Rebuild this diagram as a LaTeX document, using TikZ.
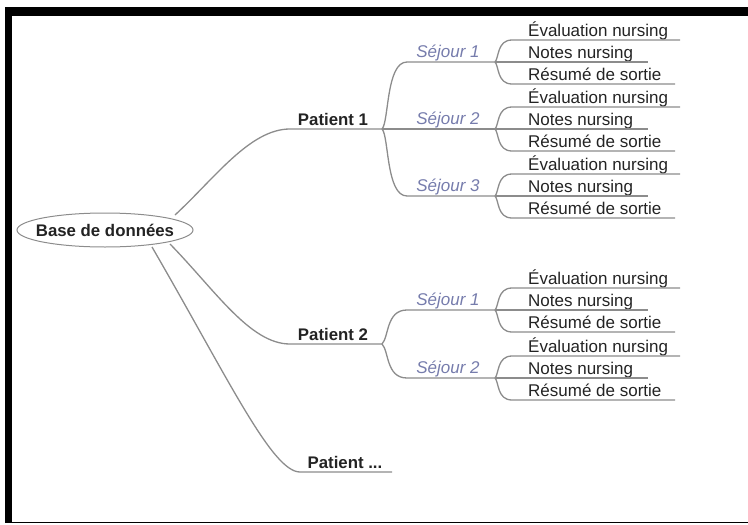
\documentclass[tikz,border=0pt]{standalone}
\usepackage{fontspec}
\setmainfont{Liberation Sans}
\usetikzlibrary{shapes.geometric}
\definecolor{ln}{RGB}{140,140,140}
\definecolor{sj}{RGB}{118,124,172}
\definecolor{tx}{RGB}{35,35,35}
\begin{document}
\begin{tikzpicture}[x=1pt,y=-1pt,
  leaf/.style={anchor=base west, inner sep=0pt, font=\fontsize{17}{20}\selectfont, text=tx},
  sej/.style={anchor=base, inner sep=0pt, font=\fontsize{17}{20}\selectfont\itshape, text=sj},
  pat/.style={anchor=base, inner sep=0pt, font=\fontsize{16.8}{20}\selectfont\bfseries, text=tx},
  conn/.style={draw=ln, line width=1.3pt}]
\useasboundingbox (0,0) rectangle (748,525);
% frame
\fill[black] (5,7) rectangle (748,16);
\fill[black] (5,7) rectangle (12,523);
\draw[black, line width=1.2pt] (5,522.4) -- (748,522.4);
% root
\node[draw=ln, line width=1pt, ellipse, minimum width=176pt, minimum height=34pt, inner sep=0pt] (db) at (105,230) {};
\node[inner sep=0pt, font=\fontsize{16.8}{20}\selectfont\bfseries, text=tx] (dbt) at (db.center) {Base de données};
% patient coordinates
\coordinate (db1) at (175,215);
\coordinate (db2) at (170,244);
\coordinate (db3) at (152,247);
\coordinate (p1a) at (290,129); \coordinate (p1b) at (382,129);
\coordinate (p2a) at (290,344); \coordinate (p2b) at (382,344);
\coordinate (p3a) at (300,472); \coordinate (p3b) at (392,472);
\node[pat] (p1) at (333,125.5) {Patient 1};
\node[pat] (p2) at (333,340.5) {Patient 2};
\node[pat] (p3) at (345,468.5) {Patient ...};
\draw[conn] (db1) .. controls (215,178) and (250,129) .. (p1a) -- (p1b);
\draw[conn] (db2) .. controls (215,290) and (250,344) .. (p2a) -- (p2b);
\draw[conn] (db3) .. controls (228,378) and (272,472) .. (p3a) -- (p3b);
% sejours
\foreach \g/\y/\py/\lab in {a/62/129/Séjour 1, b/129/129/Séjour 2, c/196/129/Séjour 3, d/310/344/Séjour 1, e/378/344/Séjour 2}{
  \coordinate (\g s) at (407,\y);
  \coordinate (\g0) at (495,\y);
  \node[sej] (\g lab) at (448,\y-4.5) {\lab};
}
\draw[conn] (p1b) .. controls (389,122) and (386,62) .. (as) -- (a0);
\draw[conn] (p1b) -- (b0);
\draw[conn] (p1b) .. controls (389,136) and (386,196) .. (cs) -- (c0);
\draw[conn] (p2b) .. controls (389,337) and (386,310) .. (ds) -- (d0);
\draw[conn] (p2b) .. controls (389,351) and (386,378) .. (es) -- (e0);
% leaves
\foreach \g/\y in {a/62, b/129, c/196, d/310, e/378}{
  \coordinate (\g1s) at (512,\y-22); \coordinate (\g1e) at (680,\y-22);
  \coordinate (\g2e) at (648,\y);
  \coordinate (\g3s) at (512,\y+22); \coordinate (\g3e) at (675,\y+22);
  \node[leaf] (\g1) at (528,\y-25.5) {Évaluation nursing};
  \node[leaf] (\g2) at (528,\y-3.5) {Notes nursing};
  \node[leaf] (\g3) at (528,\y+18.5) {Résumé de sortie};
  \draw[conn] (\g0) .. controls (499,\y-4) and (497,\y-22) .. (\g1s) -- (\g1e);
  \draw[conn] (\g0) -- (\g2e);
  \draw[conn] (\g0) .. controls (499,\y+4) and (497,\y+22) .. (\g3s) -- (\g3e);
}
\end{tikzpicture}
\end{document}
